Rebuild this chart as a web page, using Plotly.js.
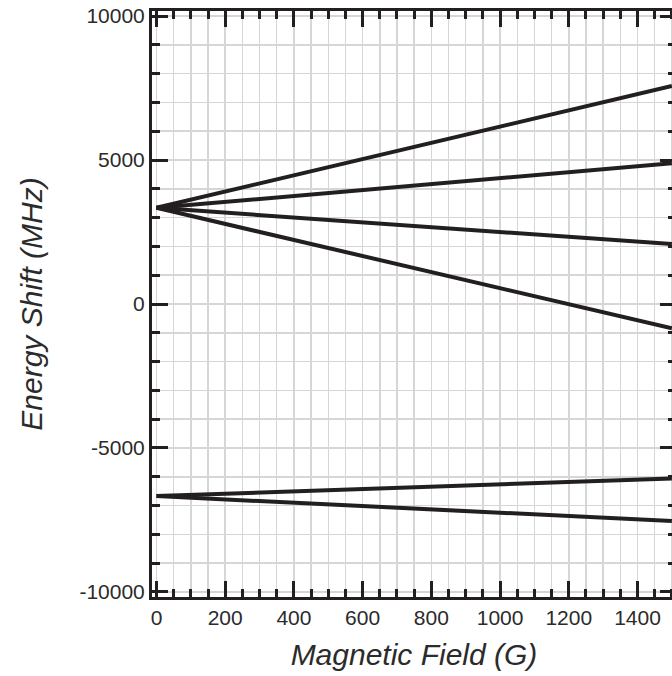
<!DOCTYPE html>
<html>
<head>
<meta charset="utf-8">
<script src="https://cdn.plot.ly/plotly-3.0.1.min.js"></script>
<style>
html, body { margin: 0; padding: 0; overflow: hidden; background: #fff; }
#chart { width: 690px; height: 676px; }
</style>
</head>
<body>
<div id="chart"></div>
<script>
// Magnetic field (G)
const field = [0, 1500];
// Energy shifts (MHz) of the six sublevels
const upperA = [3340, 7570];
const upperB = [3340, 4885];
const upperC = [3340, 2080];
const upperD = [3340, -845];
const lowerA = [-6670, -6055];
const lowerB = [-6670, -7535];

const xTickVals = [0, 200, 400, 600, 800, 1000, 1200, 1400];
const yTickVals = [-10000, -5000, 0, 5000, 10000];

const ink = '#231f20';
const grid = '#d6d6d6';

const series = [upperA, upperB, upperC, upperD, lowerA, lowerB];
const traces = series.map(s => ({
  x: field, y: s, type: 'scatter', mode: 'lines',
  line: {color: ink, width: 4}, hoverinfo: 'skip'
}));

const tickFont = {family: 'Liberation Sans, Arial, sans-serif', size: 21, color: '#2b2b2b'};
const titleFont = {family: 'Liberation Sans, Arial, sans-serif', size: 30, color: '#2b2b2b'};

const layout = {
  width: 690, height: 676,
  margin: {l: 152, r: 14, t: 11, b: 79},
  paper_bgcolor: '#fff', plot_bgcolor: '#fff',
  showlegend: false,
  xaxis: {
    range: [-13, 1512],
    tickvals: xTickVals,
    ticktext: xTickVals.map(String),
    ticks: 'inside', ticklen: 16, tickwidth: 3, tickcolor: ink,
    showline: true, linewidth: 3, linecolor: ink, mirror: 'ticks',
    showgrid: true, gridcolor: grid, gridwidth: 1.5,
    zeroline: false,
    minor: {dtick: 50, tick0: 0, ticks: 'inside', ticklen: 8, tickwidth: 3, tickcolor: ink,
            showgrid: true, gridcolor: grid, gridwidth: 1.5},
    tickfont: tickFont,
    title: {text: '<i>Magnetic Field (G)</i>', font: titleFont, standoff: 16}
  },
  yaxis: {
    range: [-10174, 10174],
    tickvals: yTickVals,
    ticktext: yTickVals.map(String),
    ticks: 'inside', ticklen: 16, tickwidth: 3, tickcolor: ink,
    showline: true, linewidth: 3, linecolor: ink, mirror: 'ticks',
    showgrid: true, gridcolor: grid, gridwidth: 1.5,
    zeroline: false,
    minor: {dtick: 1000, tick0: 0, ticks: 'inside', ticklen: 8, tickwidth: 3, tickcolor: ink,
            showgrid: true, gridcolor: grid, gridwidth: 1.5},
    tickfont: tickFont,
    title: {text: '<i>Energy Shift (MHz)</i>', font: titleFont, standoff: 28}
  }
};

Plotly.newPlot('chart', traces, layout, {displayModeBar: false, staticPlot: true});
</script>
</body>
</html>
